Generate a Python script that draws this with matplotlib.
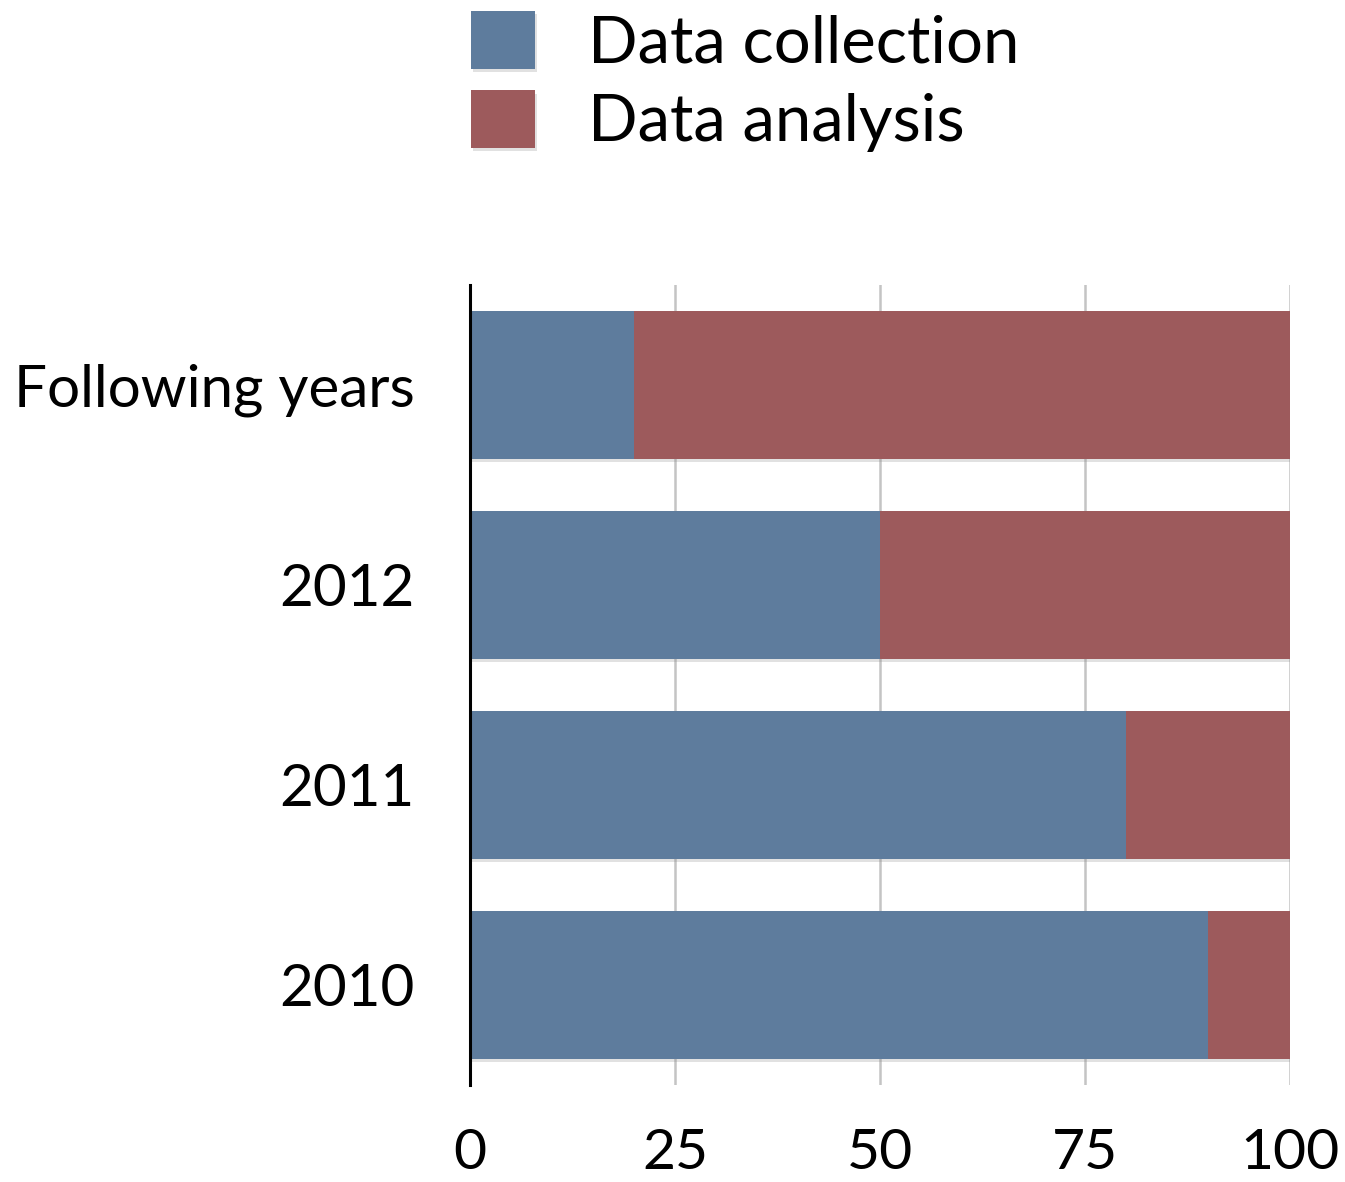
import matplotlib.pyplot as plt
import matplotlib.patheffects as pe

# Share of effort per period (percent)
periods = ["2010", "2011", "2012", "Following years"]
collection = [90, 80, 50, 20]
analysis = [10, 20, 50, 80]
xticks = [0, 25, 50, 75, 100]

blue = "#5e7c9d"
red = "#9d5a5c"

plt.rcParams["font.family"] = ["Lato", "DejaVu Sans"]

fig = plt.figure(figsize=(13.45, 11.82), dpi=100)
ax = fig.add_axes([470 / 1345, 1 - 1085 / 1182, 820 / 1345, 800 / 1182])

shadow = [pe.SimplePatchShadow(offset=(1.5, -2.5), shadow_rgbFace="#888888", alpha=0.25), pe.Normal()]

ypos = list(range(len(periods)))
b1 = ax.barh(ypos, collection, height=0.74, color=blue, label="Data collection", zorder=3)
b2 = ax.barh(ypos, analysis, left=collection, height=0.74, color=red, label="Data analysis", zorder=3)
for bar in list(b1) + list(b2):
    bar.set_path_effects(shadow)

ax.set_xlim(0, 100)
ax.set_ylim(-0.5, 3.5)
ax.set_xticks(xticks)
ax.set_xticklabels([str(t) for t in xticks])
ax.set_yticks(ypos)
ax.set_yticklabels(periods)
ax.tick_params(axis="x", length=0, pad=31, labelsize=41)
ax.tick_params(axis="y", length=0, pad=40, labelsize=42)

for side in ["top", "right", "bottom"]:
    ax.spines[side].set_visible(False)
ax.spines["left"].set_linewidth(2.2)
ax.spines["left"].set_color("black")
ax.spines["left"].set_zorder(4)

ax.xaxis.grid(True, color="#c4c4c4", linewidth=1.8, zorder=0)
ax.set_axisbelow(True)

fig.legend(handles=[b1, b2], loc="upper left", bbox_to_anchor=(471 / 1345, 1 - 11 / 1182),
           frameon=False, fontsize=47, handlelength=0.98, handleheight=0.98,
           handletextpad=0.82, labelspacing=0.26, borderpad=0, borderaxespad=0)

fig.savefig("out.png", dpi=100)
plt.close()
